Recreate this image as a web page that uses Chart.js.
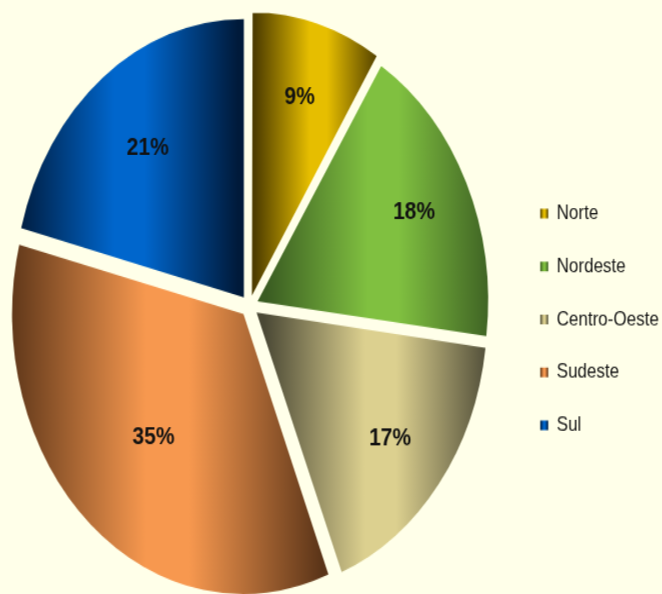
<!DOCTYPE html>
<html>
<head>
<meta charset="utf-8">
<script src="https://cdn.jsdelivr.net/npm/chart.js@4/dist/chart.umd.min.js"></script>
<style>
    html, body { margin: 0; padding: 0; background: #FFFFE9; overflow: hidden; width: 662px; height: 594px; }
    /* o original é um pouco "esticado" na vertical */
    #moldura { position: absolute; left: 0; top: 0; transform-origin: 0 0; transform: translate(-14.6px, 0) scale(1, 1.21); }
    #regioesChart { display: block; }
</style>
</head>
<body>
<div id="moldura"><canvas id="regioesChart" width="678" height="501"></canvas></div>
<script>
// ========== DADOS ==========
const regioes = ['Norte', 'Nordeste', 'Centro-Oeste', 'Sudeste', 'Sul'];
const percentuais = [9, 18, 17, 35, 21];

// ========== CORES (escura nas bordas, clara no meio) ==========
const coresClaras = ['#E6BE00', '#80C040', '#DCD08F', '#F7984F', '#0066CC'];
const coresEscuras = ['#4D3C00', '#3A5C22', '#4A4835', '#5A3418', '#001A3A'];

function gradienteHorizontal(ctx, x0, x1, i) {
    const g = ctx.createLinearGradient(x0, 0, x1, 0);
    g.addColorStop(0, coresEscuras[i]);
    g.addColorStop(0.44, coresClaras[i]);
    g.addColorStop(0.58, coresClaras[i]);
    g.addColorStop(1, coresEscuras[i]);
    return g;
}

// extensão horizontal de cada fatia, já com o deslocamento do Chart.js (offset / 4)
function limitesFatia(arc) {
    const p = arc.getProps(['x', 'y', 'startAngle', 'endAngle', 'outerRadius']);
    const desl = (arc.options.offset || 0) / 4;
    const meio = (p.startAngle + p.endAngle) / 2;
    const circ = p.endAngle - p.startAngle;
    const fix = 1 - Math.sin(Math.min(Math.PI, circ));
    const raio = p.outerRadius + desl * fix;
    const cx = p.x + Math.cos(meio) * desl;
    const cy = p.y + Math.sin(meio) * desl;
    const xs = [cx, cx + Math.cos(p.startAngle) * raio, cx + Math.cos(p.endAngle) * raio];
    [0, Math.PI, 2 * Math.PI, 3 * Math.PI].forEach(a => {
        if (a > p.startAngle && a < p.endAngle) xs.push(cx + Math.cos(a) * raio);
    });
    return { min: Math.min(...xs), max: Math.max(...xs), cx, cy, meio, r: p.outerRadius };
}

const pluginGradiente = {
    id: 'gradienteFatias',
    beforeDraw(chart) {
        const ctx = chart.ctx;
        const meta = chart.getDatasetMeta(0);
        meta.data.forEach((arc, i) => {
            const b = limitesFatia(arc);
            arc.options = Object.assign({}, arc.options, {
                backgroundColor: gradienteHorizontal(ctx, b.min, b.max, i)
            });
        });
        // caixinhas da legenda também em degradê
        const leg = chart.legend;
        if (leg && leg.legendItems) {
            const bx = leg.left + leg.options.labels.padding;
            const bw = leg.options.labels.boxWidth;
            leg.legendItems.forEach((item, i) => {
                item.fillStyle = gradienteHorizontal(ctx, bx, bx + bw, i);
            });
        }
    }
};

const pluginRotulos = {
    id: 'rotulosPercentuais',
    afterDatasetsDraw(chart, args, opts) {
        const ctx = chart.ctx;
        const meta = chart.getDatasetMeta(0);
        const dados = chart.data.datasets[0].data;
        const total = dados.reduce((t, v) => t + v, 0);
        ctx.save();
        ctx.font = 'bold 21px "Liberation Sans", Arial, sans-serif';
        ctx.fillStyle = '#111111';
        ctx.textAlign = 'center';
        ctx.textBaseline = 'middle';
        meta.data.forEach((arc, i) => {
            const b = limitesFatia(arc);
            const r = b.r * opts.raio[i];
            const x = b.cx + Math.cos(b.meio) * r;
            const y = b.cy + Math.sin(b.meio) * r;
            ctx.fillText(Math.round(dados[i] / total * 100) + '%', x, y);
        });
        ctx.restore();
    }
};

let regioesChart = null;

function inicializarGrafico() {
    const canvas = document.getElementById('regioesChart');
    if (!canvas) {
        console.error('Canvas não encontrado!');
        return;
    }
    try {
        regioesChart = new Chart(canvas.getContext('2d'), {
            type: 'pie',
            data: {
                labels: regioes,
                datasets: [{
                    data: percentuais,
                    backgroundColor: coresClaras,
                    borderWidth: 0,
                    offset: 36
                }]
            },
            options: {
                responsive: false,
                devicePixelRatio: 1,
                animation: false,
                layout: { padding: { left: 0, right: 0, top: 5.1, bottom: 0.5 } },
                plugins: {
                    legend: {
                        position: 'right',
                        maxWidth: 150,
                        title: {
                            display: true,
                            text: '',
                            padding: { top: 5, bottom: 5.4 },
                            font: { size: 10, lineHeight: 1.2 }
                        },
                        labels: {
                            boxWidth: 8,
                            boxHeight: 8,
                            padding: 26.8,
                            color: '#151515',
                            font: { size: 17, family: '"Liberation Sans", Arial, sans-serif' }
                        }
                    },
                    tooltip: { enabled: false },
                    rotulosPercentuais: { raio: [0.745, 0.753, 0.736, 0.592, 0.683] }
                }
            },
            plugins: [pluginGradiente, pluginRotulos]
        });
    } catch (error) {
        console.error('Erro ao criar gráfico:', error);
    }
}

inicializarGrafico();
</script>
</body>
</html>
